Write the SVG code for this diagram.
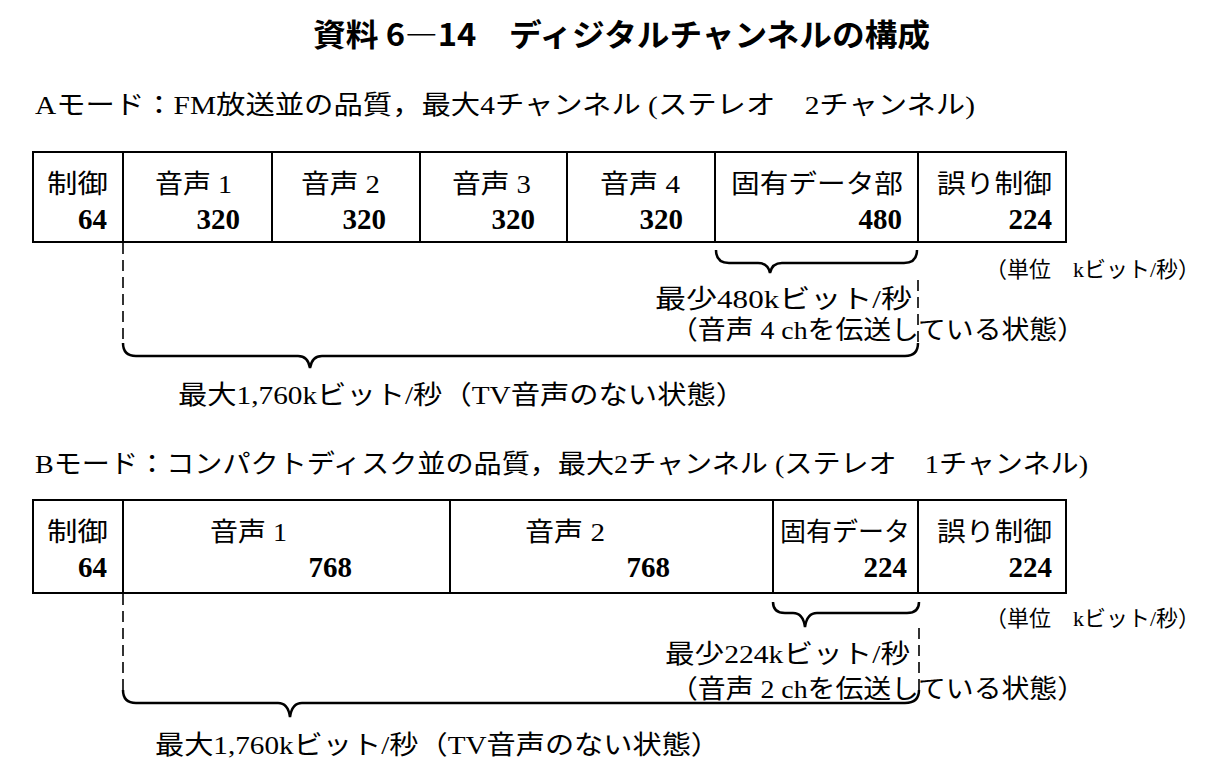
<svg xmlns="http://www.w3.org/2000/svg" width="1213" height="773" viewBox="0 0 1213 773">
<style>
.t{font-family:"Liberation Serif","Noto Sans CJK JP",serif;fill:#000;}
.title{font-family:"Noto Sans CJK JP","Liberation Sans",sans-serif;font-weight:bold;font-size:31px;fill:#000;}
.h{font-size:26px;}
.b{font-size:26px;}
.n{font-size:29px;font-weight:bold;}
.s{font-size:22px;}
.box{fill:#fff;stroke:#000;stroke-width:2;}
.brace{fill:none;stroke:#000;stroke-width:2.5;}
.dash{fill:none;stroke:#000;stroke-width:1.6;stroke-dasharray:11 6;}
</style>
<rect width="1213" height="773" fill="#fff"/>
<text class="title" x="313" y="46" textLength="617" lengthAdjust="spacingAndGlyphs">資料 6―14　ディジタルチャンネルの構成</text>

<text class="t h" x="35" y="114" textLength="940" lengthAdjust="spacingAndGlyphs">Aモード：FM放送並の品質，最大4チャンネル (ステレオ　2チャンネル)</text>

<g id="a-ctrl"><rect class="box" x="33" y="152" width="90" height="90"/>
<text class="t b" x="47" y="193" textLength="61" lengthAdjust="spacingAndGlyphs">制御</text><text class="t n" x="107" y="229" text-anchor="end">64</text></g>
<g id="a-ch1"><rect class="box" x="123" y="152" width="149" height="90"/>
<text class="t b" x="155" y="193" textLength="77" lengthAdjust="spacingAndGlyphs">音声 1</text><text class="t n" x="240" y="229" text-anchor="end">320</text></g>
<g id="a-ch2"><rect class="box" x="272" y="152" width="148" height="90"/>
<text class="t b" x="301" y="193" textLength="79" lengthAdjust="spacingAndGlyphs">音声 2</text><text class="t n" x="386" y="229" text-anchor="end">320</text></g>
<g id="a-ch3"><rect class="box" x="420" y="152" width="147" height="90"/>
<text class="t b" x="452" y="193" textLength="79" lengthAdjust="spacingAndGlyphs">音声 3</text><text class="t n" x="535" y="229" text-anchor="end">320</text></g>
<g id="a-ch4"><rect class="box" x="567" y="152" width="148" height="90"/>
<text class="t b" x="600" y="193" textLength="80" lengthAdjust="spacingAndGlyphs">音声 4</text><text class="t n" x="683" y="229" text-anchor="end">320</text></g>
<g id="a-data"><rect class="box" x="715" y="152" width="203" height="90"/>
<text class="t b" x="731" y="193" textLength="172" lengthAdjust="spacingAndGlyphs">固有データ部</text><text class="t n" x="902" y="229" text-anchor="end">480</text></g>
<g id="a-err"><rect class="box" x="918" y="152" width="148" height="90"/>
<text class="t b" x="937" y="193" textLength="115" lengthAdjust="spacingAndGlyphs">誤り制御</text><text class="t n" x="1052" y="229" text-anchor="end">224</text></g>

<text class="t s" x="985" y="277" textLength="215" lengthAdjust="spacingAndGlyphs">（単位　kビット/秒）</text>
<text class="t b" x="912" y="308" text-anchor="end" textLength="257" lengthAdjust="spacingAndGlyphs">最少480kビット/秒</text>
<text class="t b" x="670" y="339" textLength="415" lengthAdjust="spacingAndGlyphs">（音声 4 chを伝送している状態）</text>
<text class="t b" x="178" y="404" textLength="567" lengthAdjust="spacingAndGlyphs">最大1,760kビット/秒（TV音声のない状態）</text>

<text class="t h" x="35" y="473" textLength="1053" lengthAdjust="spacingAndGlyphs">Bモード：コンパクトディスク並の品質，最大2チャンネル (ステレオ　1チャンネル)</text>

<g id="b-ctrl"><rect class="box" x="33" y="500" width="90" height="93"/>
<text class="t b" x="47" y="541" textLength="61" lengthAdjust="spacingAndGlyphs">制御</text><text class="t n" x="107" y="577" text-anchor="end">64</text></g>
<g id="b-ch1"><rect class="box" x="123" y="500" width="327" height="93"/>
<text class="t b" x="210" y="541" textLength="77" lengthAdjust="spacingAndGlyphs">音声 1</text><text class="t n" x="352" y="577" text-anchor="end">768</text></g>
<g id="b-ch2"><rect class="box" x="450" y="500" width="323" height="93"/>
<text class="t b" x="525" y="541" textLength="80" lengthAdjust="spacingAndGlyphs">音声 2</text><text class="t n" x="670" y="577" text-anchor="end">768</text></g>
<g id="b-data"><rect class="box" x="773" y="500" width="145" height="93"/>
<text class="t b" x="780" y="541" textLength="130" lengthAdjust="spacingAndGlyphs">固有データ</text><text class="t n" x="907" y="577" text-anchor="end">224</text></g>
<g id="b-err"><rect class="box" x="918" y="500" width="148" height="93"/>
<text class="t b" x="937" y="541" textLength="115" lengthAdjust="spacingAndGlyphs">誤り制御</text><text class="t n" x="1052" y="577" text-anchor="end">224</text></g>

<text class="t s" x="985" y="626" textLength="215" lengthAdjust="spacingAndGlyphs">（単位　kビット/秒）</text>
<text class="t b" x="910" y="663" text-anchor="end" textLength="245" lengthAdjust="spacingAndGlyphs">最少224kビット/秒</text>
<text class="t b" x="670" y="698" textLength="415" lengthAdjust="spacingAndGlyphs">（音声 2 chを伝送している状態）</text>
<text class="t b" x="155" y="754" textLength="565" lengthAdjust="spacingAndGlyphs">最大1,760kビット/秒（TV音声のない状態）</text>

<g id="connectors">
<path class="brace" d="M716,250 Q716,263 729,263 L758,263 Q768,263 770,273 Q772,263 782,263 L904,263 Q917,263 917,250"/>
<line class="dash" x1="123" y1="243" x2="123" y2="343"/>
<line class="dash" x1="918" y1="280" x2="918" y2="343"/>
<path class="brace" d="M123,343 Q123,356 136,356 L298,356 Q308,356 310,368 Q312,356 322,356 L905,356 Q918,356 918,343"/>
<path class="brace" d="M773,602 Q773,613 785,613 L793,613 Q803,613 805,627 Q807,613 817,613 L907,613 Q919,613 919,602"/>
<line class="dash" x1="123" y1="594" x2="123" y2="690"/>
<line class="dash" x1="919" y1="628" x2="919" y2="690"/>
<path class="brace" d="M123,690 Q123,703 136,703 L278,703 Q288,703 290,717 Q292,703 302,703 L905,703 Q919,703 919,690"/>
</g>
</svg>
